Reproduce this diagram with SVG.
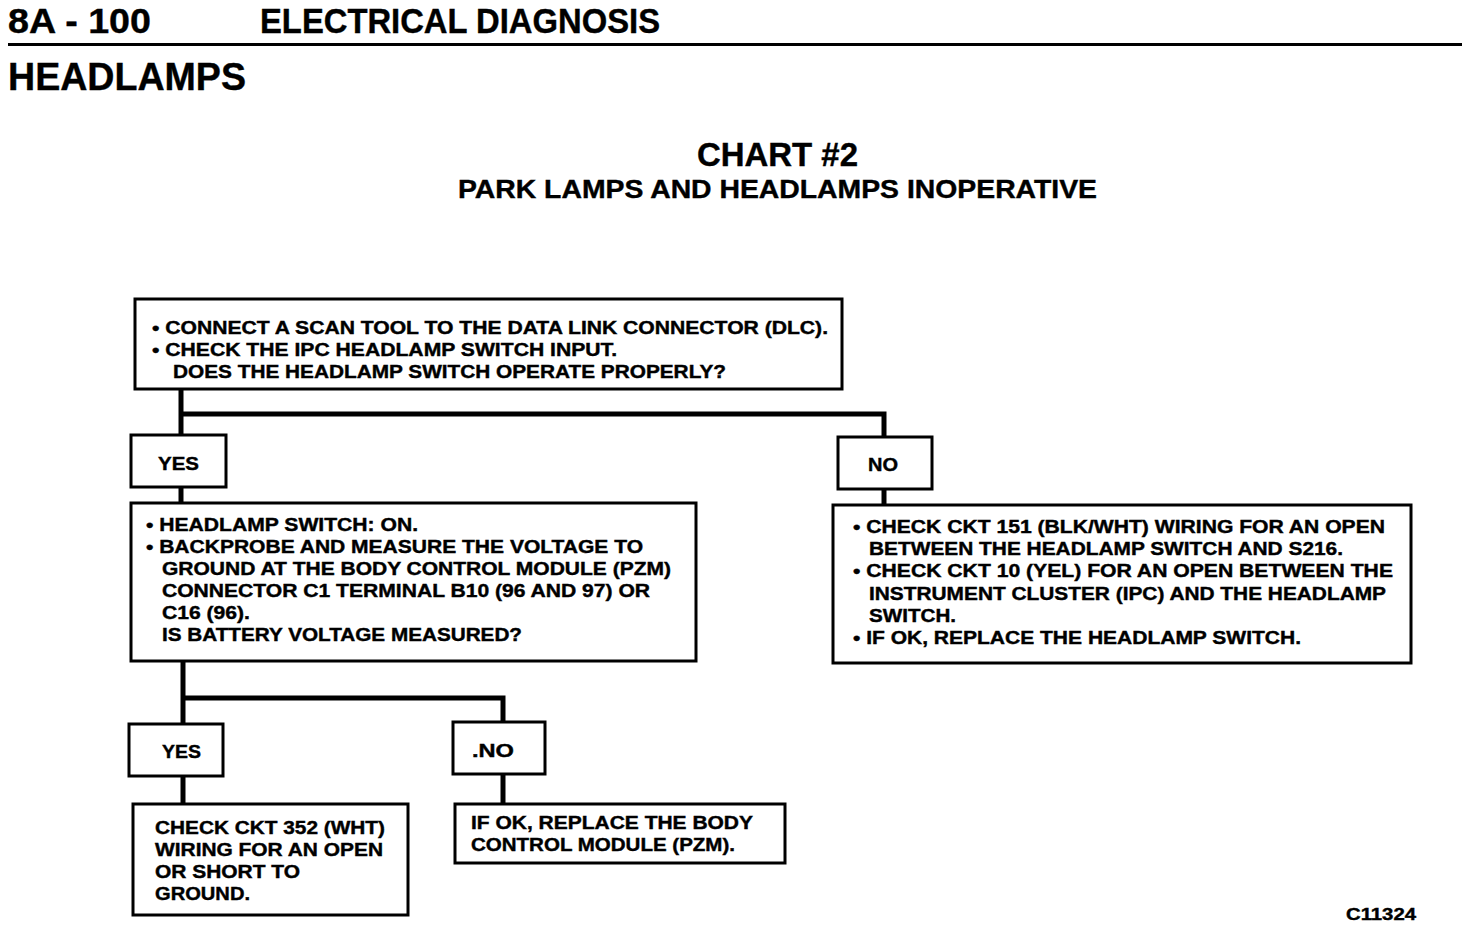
<svg xmlns="http://www.w3.org/2000/svg" width="1472" height="926" viewBox="0 0 1472 926">
<style>
text{font-family:"Liberation Sans",Arial,sans-serif;font-weight:bold;fill:#000;stroke:#000;stroke-width:0.4}
.t{font-size:18px}
.h{font-size:35px}
.box{fill:#fff;stroke:#000;stroke-width:3}
.con{fill:none;stroke:#000;stroke-width:5}
</style>
<rect width="1472" height="926" fill="#fff"/>
<g id="header">
<text class="h" x="8" y="33" textLength="143" lengthAdjust="spacingAndGlyphs">8A - 100</text>
<text class="h" x="260" y="33" textLength="400" lengthAdjust="spacingAndGlyphs">ELECTRICAL DIAGNOSIS</text>
<line x1="8" y1="44.5" x2="1462" y2="44.5" stroke="#000" stroke-width="3"/>
<text x="8" y="90" style="font-size:39px" textLength="238" lengthAdjust="spacingAndGlyphs">HEADLAMPS</text>
<text x="697" y="166" style="font-size:33px" textLength="161" lengthAdjust="spacingAndGlyphs">CHART #2</text>
<text x="458" y="198" style="font-size:26px" textLength="639" lengthAdjust="spacingAndGlyphs">PARK LAMPS AND HEADLAMPS INOPERATIVE</text>
</g>
<g id="connectors">
<polyline class="con" points="181,389 181,435"/>
<polyline class="con" points="181,414 884,414 884,437"/>
<polyline class="con" points="884,489 884,505"/>
<polyline class="con" points="181,487 181,503"/>
<polyline class="con" points="183,661 183,724"/>
<polyline class="con" points="183,698 503,698 503,722"/>
<polyline class="con" points="183,776 183,804"/>
<polyline class="con" points="503,774 503,804"/>
</g>
<g id="start">
<rect class="box" x="135" y="299" width="707" height="90"/>
<text class="t" x="152" y="334" textLength="676" lengthAdjust="spacingAndGlyphs">• CONNECT A SCAN TOOL TO THE DATA LINK CONNECTOR (DLC).</text>
<text class="t" x="152" y="356" textLength="465" lengthAdjust="spacingAndGlyphs">• CHECK THE IPC HEADLAMP SWITCH INPUT.</text>
<text class="t" x="173" y="378" textLength="553" lengthAdjust="spacingAndGlyphs">DOES THE HEADLAMP SWITCH OPERATE PROPERLY?</text>
</g>
<g id="yes1">
<rect class="box" x="131" y="435" width="95" height="52"/>
<text class="t" x="158" y="470" textLength="41" lengthAdjust="spacingAndGlyphs">YES</text>
</g>
<g id="no1">
<rect class="box" x="838" y="437" width="94" height="52"/>
<text class="t" x="868" y="471" textLength="30" lengthAdjust="spacingAndGlyphs">NO</text>
</g>
<g id="measure">
<rect class="box" x="131" y="503" width="565" height="158"/>
<text class="t" x="146" y="531" textLength="272" lengthAdjust="spacingAndGlyphs">• HEADLAMP SWITCH: ON.</text>
<text class="t" x="146" y="553" textLength="497" lengthAdjust="spacingAndGlyphs">• BACKPROBE AND MEASURE THE VOLTAGE TO</text>
<text class="t" x="162" y="575" textLength="509" lengthAdjust="spacingAndGlyphs">GROUND AT THE BODY CONTROL MODULE (PZM)</text>
<text class="t" x="162" y="597" textLength="488" lengthAdjust="spacingAndGlyphs">CONNECTOR C1 TERMINAL B10 (96 AND 97) OR</text>
<text class="t" x="162" y="619" textLength="88" lengthAdjust="spacingAndGlyphs">C16 (96).</text>
<text class="t" x="162" y="641" textLength="360" lengthAdjust="spacingAndGlyphs">IS BATTERY VOLTAGE MEASURED?</text>
</g>
<g id="switchcheck">
<rect class="box" x="833" y="505" width="578" height="158"/>
<text class="t" x="853" y="533" textLength="532" lengthAdjust="spacingAndGlyphs">• CHECK CKT 151 (BLK/WHT) WIRING FOR AN OPEN</text>
<text class="t" x="869" y="555" textLength="474" lengthAdjust="spacingAndGlyphs">BETWEEN THE HEADLAMP SWITCH AND S216.</text>
<text class="t" x="853" y="577" textLength="540" lengthAdjust="spacingAndGlyphs">• CHECK CKT 10 (YEL) FOR AN OPEN BETWEEN THE</text>
<text class="t" x="869" y="600" textLength="517" lengthAdjust="spacingAndGlyphs">INSTRUMENT CLUSTER (IPC) AND THE HEADLAMP</text>
<text class="t" x="869" y="622" textLength="87" lengthAdjust="spacingAndGlyphs">SWITCH.</text>
<text class="t" x="853" y="644" textLength="448" lengthAdjust="spacingAndGlyphs">• IF OK, REPLACE THE HEADLAMP SWITCH.</text>
</g>
<g id="yes2">
<rect class="box" x="129" y="724" width="94" height="52"/>
<text class="t" x="162" y="758" textLength="39" lengthAdjust="spacingAndGlyphs">YES</text>
</g>
<g id="no2">
<rect class="box" x="453" y="722" width="92" height="52"/>
<text class="t" x="472" y="757" textLength="42" lengthAdjust="spacingAndGlyphs">.NO</text>
</g>
<g id="wiring">
<rect class="box" x="133" y="804" width="275" height="111"/>
<text class="t" x="155" y="834" textLength="230" lengthAdjust="spacingAndGlyphs">CHECK CKT 352 (WHT)</text>
<text class="t" x="155" y="856" textLength="228" lengthAdjust="spacingAndGlyphs">WIRING FOR AN OPEN</text>
<text class="t" x="155" y="878" textLength="145" lengthAdjust="spacingAndGlyphs">OR SHORT TO</text>
<text class="t" x="155" y="900" textLength="95" lengthAdjust="spacingAndGlyphs">GROUND.</text>
</g>
<g id="replace">
<rect class="box" x="455" y="804" width="330" height="59"/>
<text class="t" x="471" y="829" textLength="282" lengthAdjust="spacingAndGlyphs">IF OK, REPLACE THE BODY</text>
<text class="t" x="471" y="851" textLength="264" lengthAdjust="spacingAndGlyphs">CONTROL MODULE (PZM).</text>
</g>
<text x="1346" y="920" style="font-size:16px" textLength="70" lengthAdjust="spacingAndGlyphs">C11324</text>
</svg>
